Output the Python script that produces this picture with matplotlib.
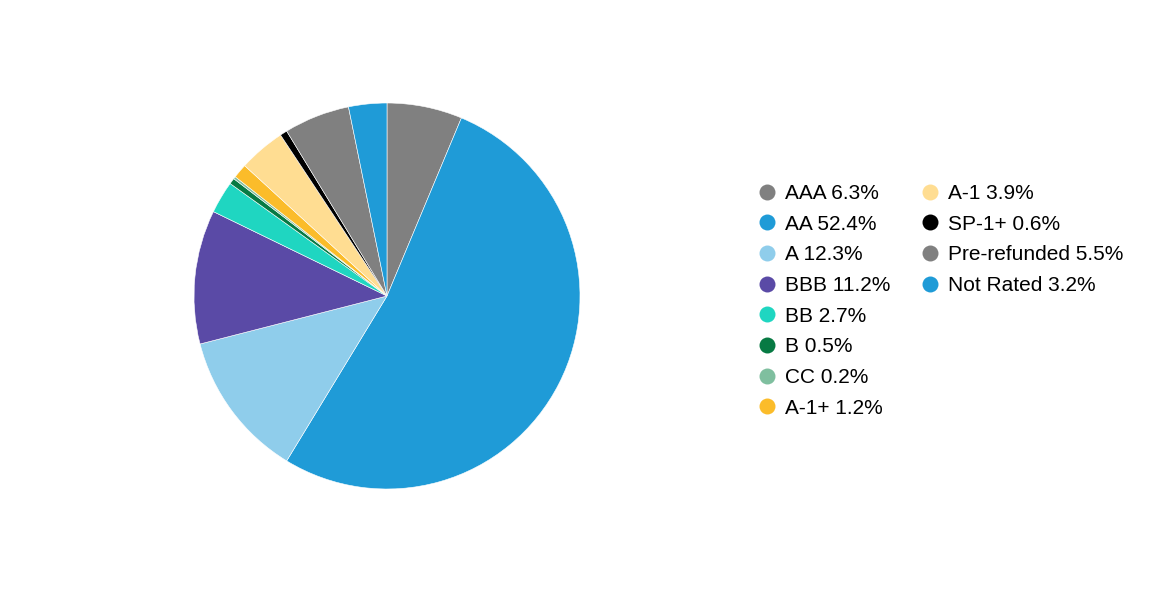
import matplotlib.pyplot as plt
from matplotlib.lines import Line2D

plt.rcParams['font.family'] = ['Liberation Sans', 'DejaVu Sans']

labels = ['AAA', 'AA', 'A', 'BBB', 'BB', 'B', 'CC', 'A-1+', 'A-1', 'SP-1+',
          'Pre-refunded', 'Not Rated']
values = [6.3, 52.4, 12.3, 11.2, 2.7, 0.5, 0.2, 1.2, 3.9, 0.6, 5.5, 3.2]
colors = ['#808080', '#1f9bd7', '#8fcdeb', '#5a4aa6', '#1fd6c1', '#077a43',
          '#7fbf9f', '#fbbc2a', '#ffdd92', '#000000', '#808080', '#1f9bd7']

fig = plt.figure(figsize=(11.52, 6), dpi=100)
ax = fig.add_axes([194 / 1152, 111 / 600, 386 / 1152, 386 / 600])
ax.pie(values, colors=colors, startangle=90, counterclock=False, radius=1,
       wedgeprops=dict(linewidth=0.4, edgecolor='white'))
ax.set_xlim(-1, 1)
ax.set_ylim(-1, 1)
ax.set_aspect('equal')
ax.axis('off')

handles = [Line2D([], [], linestyle='none', marker='o', markersize=11.5,
                  markerfacecolor=c, markeredgecolor='none') for c in colors]
texts = [f'{l} {v}%' for l, v in zip(labels, values)]
# pad second column so the first holds 8 entries
blank = Line2D([], [], linestyle='none')
handles += [blank] * 4
texts += [''] * 4
leg = fig.legend(handles, texts, loc='upper left', bbox_to_anchor=(759 / 1152, 1 - 184 / 600),
                 ncol=2, frameon=False, fontsize=15, handlelength=0.8,
                 handletextpad=0.45, labelspacing=0.56, columnspacing=1.51,
                 borderaxespad=0, borderpad=0)

fig.savefig('out.png', dpi=100)
